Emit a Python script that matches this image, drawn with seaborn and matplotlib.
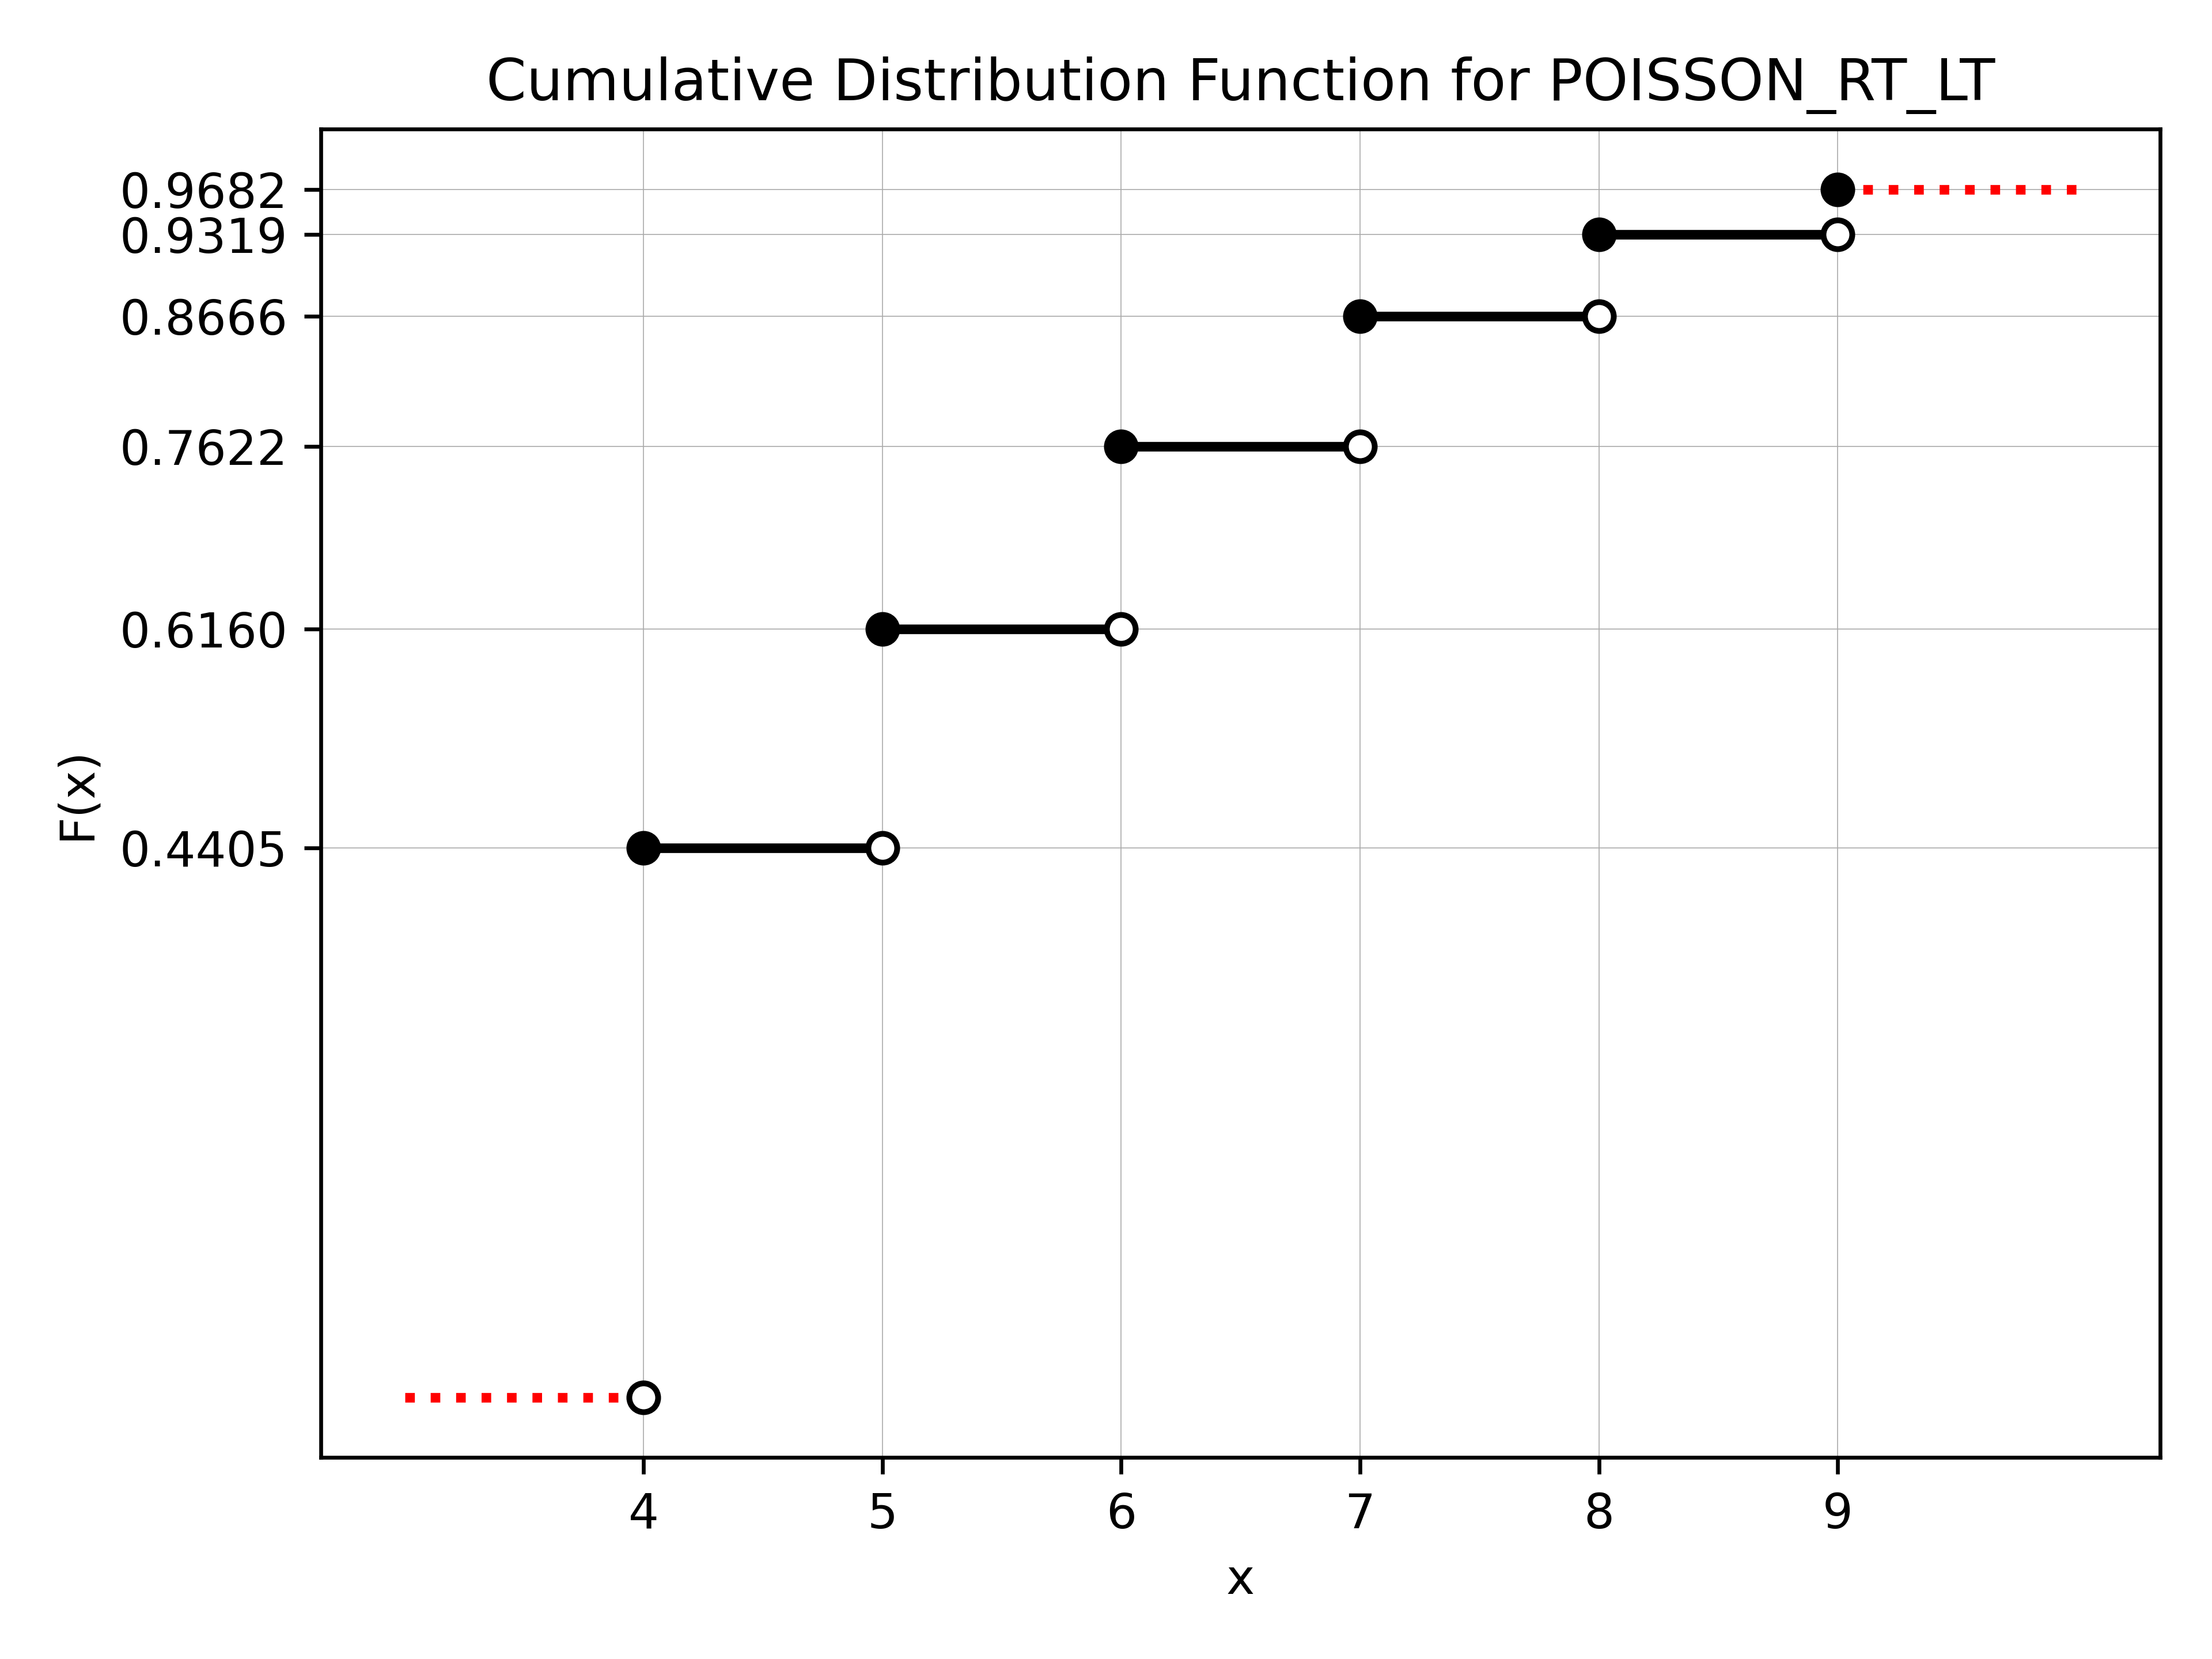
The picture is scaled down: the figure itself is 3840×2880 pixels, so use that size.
import numpy as np
import pandas as pd
import matplotlib
matplotlib.use("Agg")
import matplotlib.pyplot as plt
import seaborn as sns

# ── data ────────────────────────────────────────────────────────────────
support = [4, 5, 6, 7, 8, 9]
cdf_vals = [0.4405, 0.6160, 0.7622, 0.8666, 0.9319, 0.9682]
lower_tail = [3, 4]          # F(x) = 0 left of the support
upper_tail = [9, 10]         # last level carried on to the right
tick_labels = [f"{v:.4f}" for v in cdf_vals]

# step segments [x_i, x_{i+1}) at F(x_i)
seg_rows = []
for i in range(len(support) - 1):
    seg_rows.append({"seg": i, "x": support[i], "F": cdf_vals[i]})
    seg_rows.append({"seg": i, "x": support[i + 1], "F": cdf_vals[i]})
segs = pd.DataFrame(seg_rows)

closed = pd.DataFrame({"x": support, "F": cdf_vals})
open_pts = pd.DataFrame({"x": support, "F": [0.0] + cdf_vals[:-1]})

tails = pd.DataFrame({
    "seg": [0, 0, 1, 1],
    "x": lower_tail + upper_tail,
    "F": [0.0, 0.0, cdf_vals[-1], cdf_vals[-1]],
})

# ── plot ────────────────────────────────────────────────────────────────
sns.set_style("ticks")
plt.rcParams["font.family"] = ["DejaVu Sans"]
plt.rcParams.update({
    "text.color": "black",
    "axes.labelcolor": "black",
    "xtick.color": "black",
    "ytick.color": "black",
    "axes.edgecolor": "black",
})

fig, ax = plt.subplots(figsize=(6.4, 4.8))

sns.lineplot(data=tails, x="x", y="F", units="seg", estimator=None,
             color="red", lw=2, ls=":", ax=ax, zorder=2)
sns.lineplot(data=segs, x="x", y="F", units="seg", estimator=None,
             color="black", lw=2, ax=ax, zorder=2)

ax.plot(open_pts["x"], open_pts["F"], ls="none", marker="o", ms=6,
        mfc="white", mec="black", mew=1.2, zorder=3)
ax.plot(closed["x"], closed["F"], ls="none", marker="o", ms=6,
        mfc="black", mec="black", mew=1.2, zorder=3)

ax.set_xticks(support)
ax.set_yticks(cdf_vals)
ax.set_yticklabels(tick_labels)
ax.tick_params(axis="both", labelsize=10, length=3.5, width=0.8,
               direction="out", color="black", labelcolor="black")
for s in ax.spines.values():
    s.set_visible(True)
    s.set_linewidth(0.8)
    s.set_color("black")

ax.grid(True, color="#aaaaaa", lw=0.2)
ax.set_axisbelow(True)

ax.set_xlabel("x", fontsize=10, color="black")
ax.set_ylabel("F(x)", fontsize=10, color="black")
ax.set_title("Cumulative Distribution Function for POISSON_RT_LT",
             fontsize=12, color="black")

plt.tight_layout()
fig.savefig("out.png", dpi=600)
plt.close(fig)
